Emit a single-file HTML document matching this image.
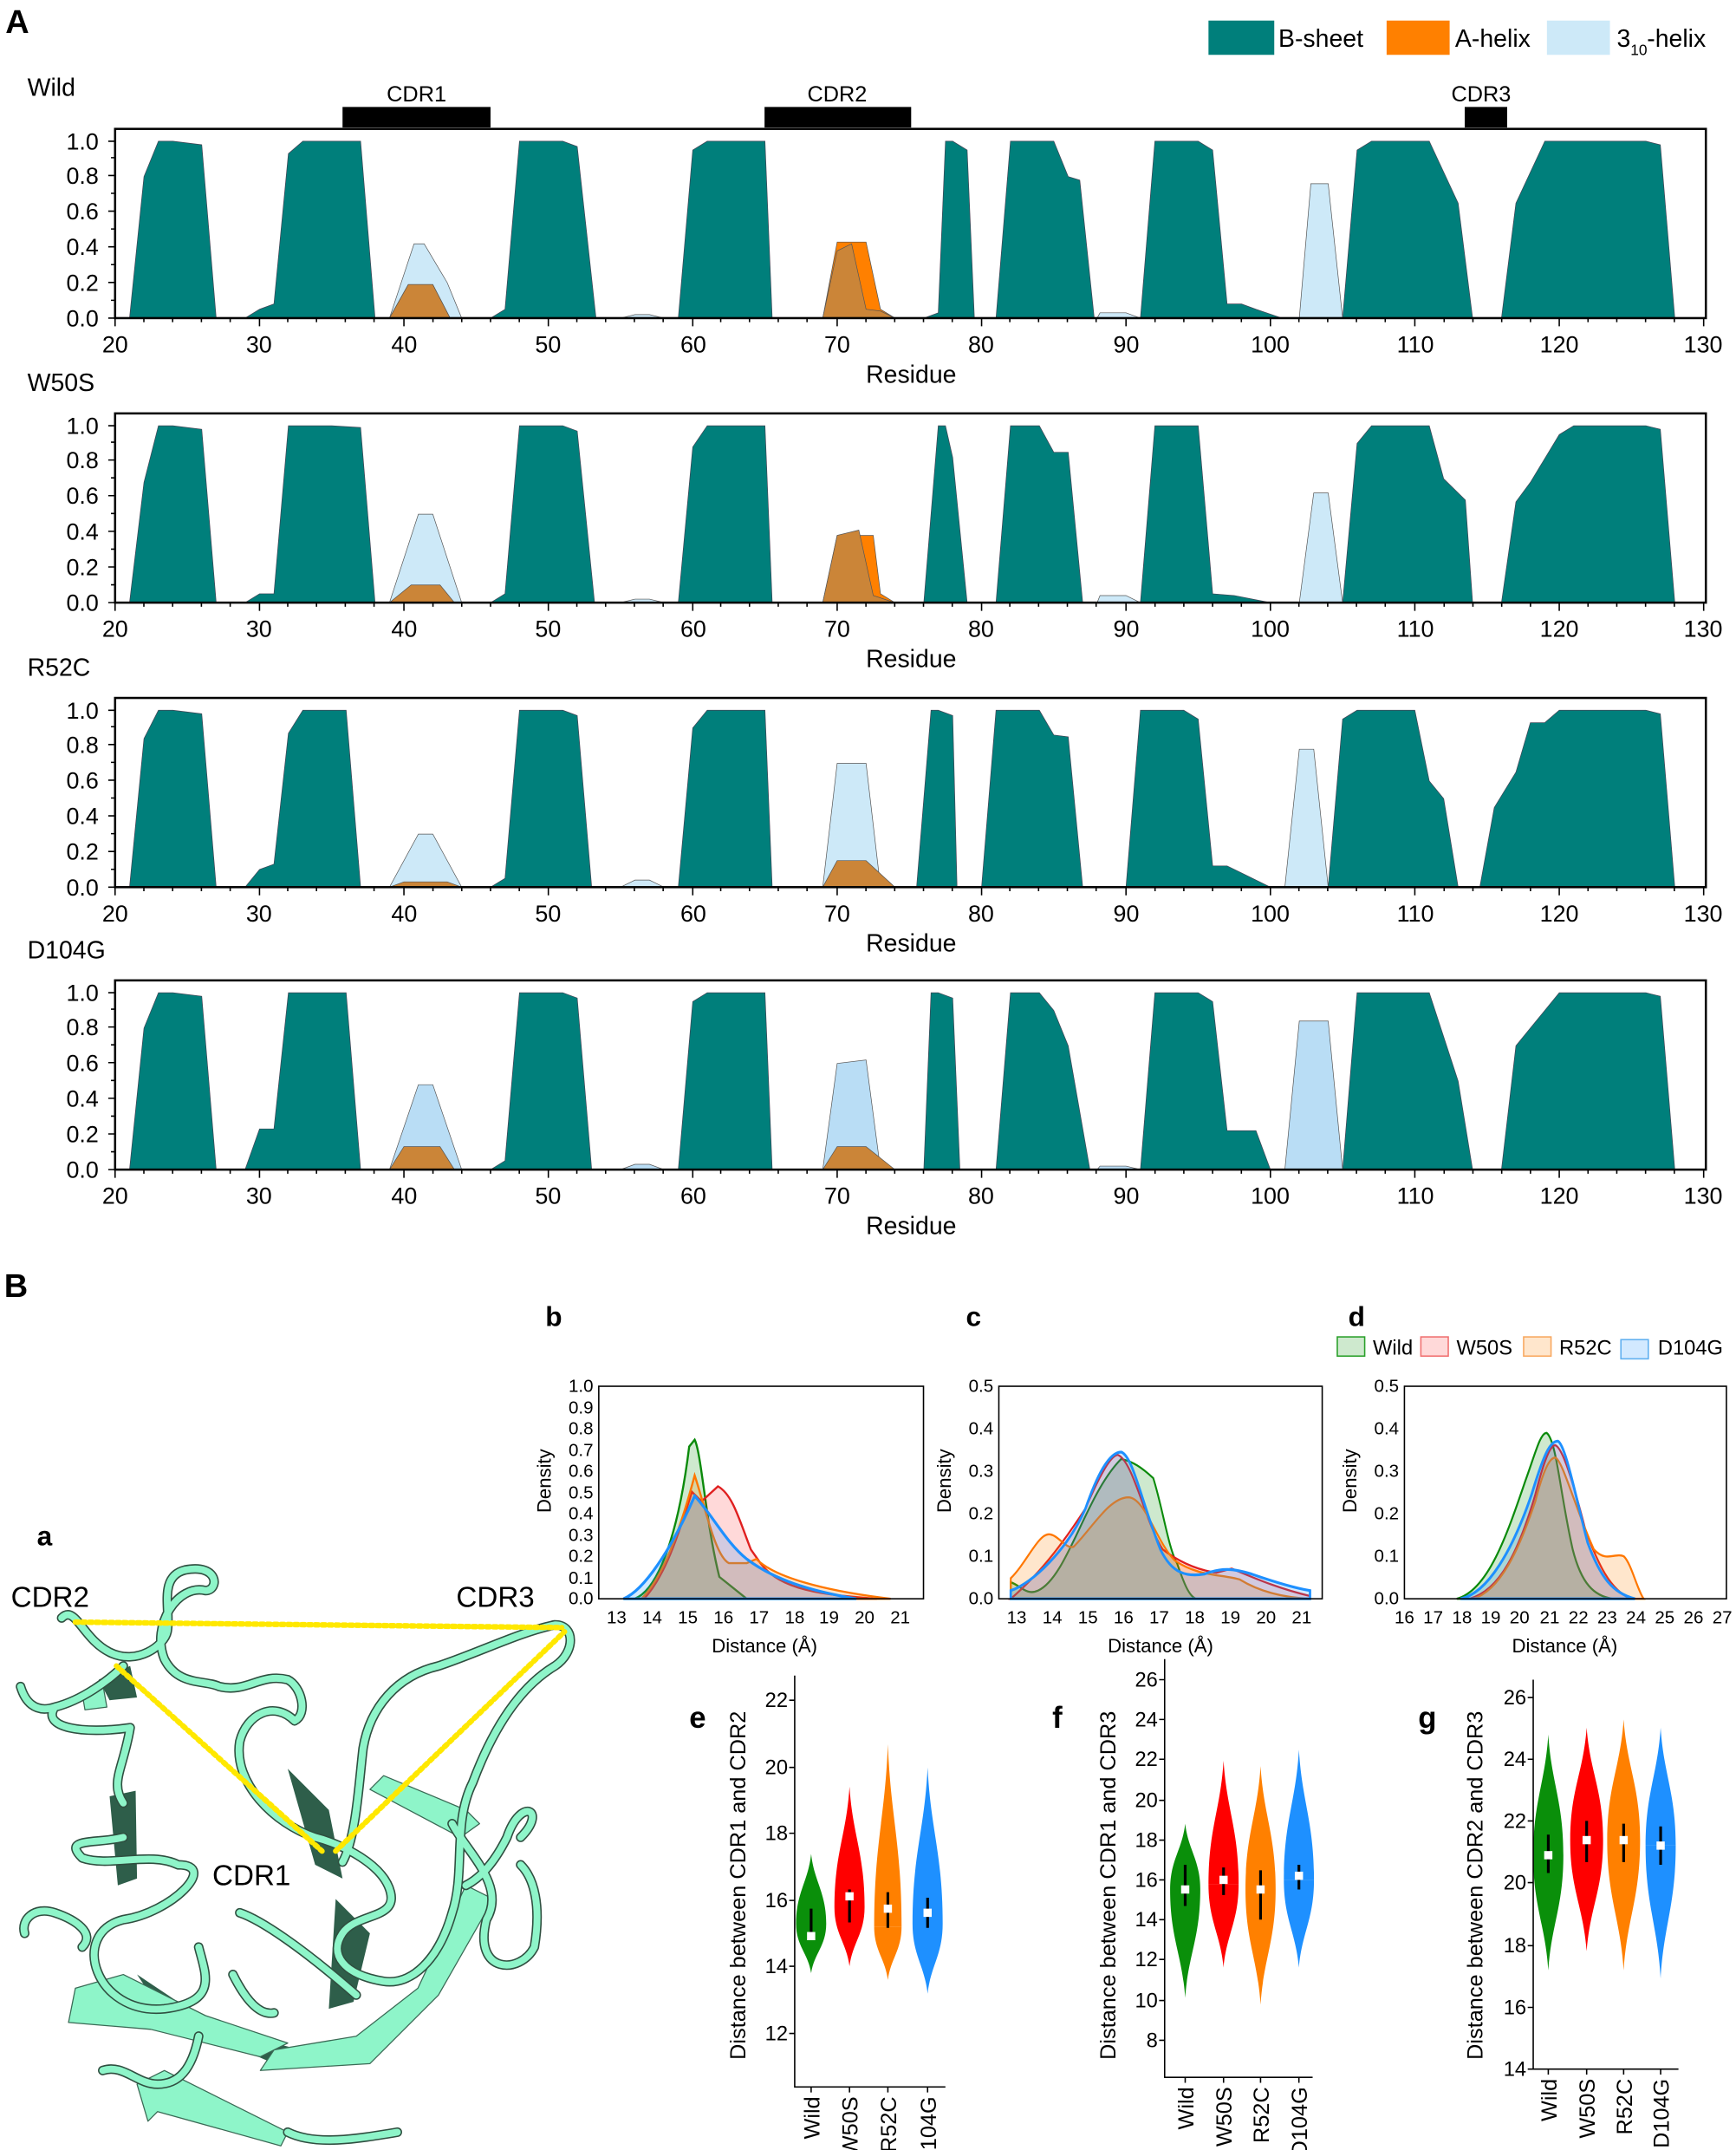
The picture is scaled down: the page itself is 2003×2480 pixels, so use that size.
<!DOCTYPE html>
<html><head><meta charset="utf-8"><style>
html,body{margin:0;padding:0;background:#fff}
svg{display:block}
text{font-family:"Liberation Sans",sans-serif;fill:#000}
</style></head><body>
<svg width="2003" height="2480" viewBox="0 0 1267 1568" preserveAspectRatio="none" xmlns="http://www.w3.org/2000/svg">
<defs>
<g id="xaxis">
<g stroke="#000" stroke-width="1" fill="none">
<path d="M84,232v6M189.4,232v6M294.8,232v6M400.2,232v6M505.6,232v6M611,232v6M716.4,232v6M821.8,232v6M927.2,232v6M1032.6,232v6M1138,232v6M1243.4,232v6"/>
<path d="M105,232v3M126,232v3M147,232v3M168,232v3M210,232v3M231,232v3M252,232v3M273,232v3M316,232v3M337,232v3M358,232v3M379,232v3M421,232v3M442,232v3M463,232v3M484,232v3M526,232v3M547,232v3M568,232v3M589,232v3M632,232v3M653,232v3M674,232v3M695,232v3M737,232v3M758,232v3M779,232v3M800,232v3M843,232v3M864,232v3M885,232v3M906,232v3M948,232v3M969,232v3M990,232v3M1011,232v3M1054,232v3M1075,232v3M1096,232v3M1117,232v3M1159,232v3M1180,232v3M1201,232v3M1222,232v3"/>
<path d="M84,232h-5M84,219h-3M84,206h-5M84,193h-3M84,180h-5M84,167h-3M84,154h-5M84,141h-3M84,128h-5M84,115h-3M84,103h-5"/>
</g>
<g font-size="17" text-anchor="middle">
<text x="84" y="257">20</text><text x="189" y="257">30</text><text x="295" y="257">40</text><text x="400" y="257">50</text><text x="506" y="257">60</text><text x="611" y="257">70</text><text x="716" y="257">80</text><text x="822" y="257">90</text><text x="927" y="257">100</text><text x="1033" y="257">110</text><text x="1138" y="257">120</text><text x="1243" y="257">130</text>
<text x="665" y="279" font-size="18">Residue</text>
</g>
<g font-size="17" text-anchor="end">
<text x="72" y="238">0.0</text><text x="72" y="212">0.2</text><text x="72" y="186">0.4</text><text x="72" y="160">0.6</text><text x="72" y="134">0.8</text><text x="72" y="109">1.0</text>
</g>
<rect x="84" y="94" width="1161" height="138" fill="none" stroke="#000" stroke-width="1.6"/>
</g>
</defs>

<text x="4" y="24" font-size="24" font-weight="bold">A</text>
<rect x="882" y="15" width="48" height="25" fill="#007f7b"/><text x="933" y="34" font-size="18">B-sheet</text>
<rect x="1012" y="15" width="46" height="25" fill="#ff8000"/><text x="1062" y="34" font-size="18">A-helix</text>
<rect x="1129" y="15" width="46" height="25" fill="#cde9f8"/><text x="1180" y="34" font-size="18">3</text><text x="1190" y="40" font-size="11">10</text><text x="1202" y="34" font-size="18">-helix</text>
<rect x="250" y="78" width="108" height="15" fill="#000"/><text x="304" y="74" font-size="16" text-anchor="middle">CDR1</text>
<rect x="558" y="78" width="107" height="15" fill="#000"/><text x="611" y="74" font-size="16" text-anchor="middle">CDR2</text>
<rect x="1069" y="78" width="31" height="15" fill="#000"/><text x="1081" y="74" font-size="16" text-anchor="middle">CDR3</text>

<text x="20" y="70" font-size="18">Wild</text>
<text x="20" y="285" font-size="18">W50S</text>
<text x="20" y="493" font-size="18">R52C</text>
<text x="20" y="699" font-size="18">D104G</text>

<!-- Wild -->
<g>
<g transform="translate(84,232) scale(10.54,-129)" stroke="#555" stroke-width="0.7">
<g fill="#007f7b" stroke="#445" >
<polygon vector-effect="non-scaling-stroke" points="1,0 2,0.8 3,1 4,1 6,0.98 7,0"/>
<polygon vector-effect="non-scaling-stroke" points="9,0 10,0.05 11,0.08 12,0.93 13,1 15,1 17,1 18,0"/>
<polygon vector-effect="non-scaling-stroke" points="26,0 27,0.05 28,1 31,1 32,0.97 33.3,0"/>
<polygon vector-effect="non-scaling-stroke" points="39,0 40,0.95 41,1 45,1 45.5,0"/>
<polygon vector-effect="non-scaling-stroke" points="56,0 57,0.03 57.5,1 58,1 59,0.95 59.5,0"/>
<polygon vector-effect="non-scaling-stroke" points="61,0 62,1 65,1 66,0.8 66.8,0.78 67.8,0"/>
<polygon vector-effect="non-scaling-stroke" points="71,0 72,1 75,1 76,0.95 77,0.08 78,0.08 79,0.05 80.8,0"/>
<polygon vector-effect="non-scaling-stroke" points="85,0 86,0.95 87,1 91,1 93,0.65 94,0"/>
<polygon vector-effect="non-scaling-stroke" points="96,0 97,0.65 99,1 106,1 107,0.98 108,0"/>
</g>
<g fill="#cde9f8">
<polygon vector-effect="non-scaling-stroke" points="19,0 20.7,0.42 21.4,0.42 23,0.2 24,0"/>
<polygon vector-effect="non-scaling-stroke" points="82,0 82.8,0.76 84,0.76 85,0"/>
<polygon vector-effect="non-scaling-stroke" points="68,0 68.2,0.03 70,0.03 71,0"/>
<polygon vector-effect="non-scaling-stroke" points="35,0 36,0.02 37,0.02 38,0"/>
<polygon vector-effect="non-scaling-stroke" points="53,0.05 54,0 53,0"/>
</g>
<polygon fill="#ff8000" vector-effect="non-scaling-stroke" points="19,0 20.3,0.19 22,0.19 23.2,0"/>
<polygon fill="#ff8000" vector-effect="non-scaling-stroke" points="49,0 50,0.43 52,0.43 53,0.05 54,0"/>
<polygon fill="#cb8538" vector-effect="non-scaling-stroke" points="19,0 20.3,0.19 22,0.19 23.2,0"/>
<polygon fill="#cb8538" vector-effect="non-scaling-stroke" points="49,0 50,0.38 51,0.42 52,0.05 53,0.04 54,0"/>
</g>
<use href="#xaxis"/>
</g>

<!-- W50S -->
<g transform="translate(0,207.5)">
<g transform="translate(84,232) scale(10.54,-129)" stroke="#555" stroke-width="0.7">
<g fill="#007f7b" stroke="#445">
<polygon vector-effect="non-scaling-stroke" points="1,0 2,0.68 3,1 4,1 6,0.98 7,0"/>
<polygon vector-effect="non-scaling-stroke" points="9,0 10,0.05 11,0.05 12,1 15,1 17,0.99 18,0"/>
<polygon vector-effect="non-scaling-stroke" points="26,0 27,0.05 28,1 31,1 32,0.97 33.2,0"/>
<polygon vector-effect="non-scaling-stroke" points="39,0 40,0.88 41,1 45,1 45.5,0"/>
<polygon vector-effect="non-scaling-stroke" points="56,0 57,1 57.5,1 58,0.82 59,0"/>
<polygon vector-effect="non-scaling-stroke" points="61,0 62,1 64,1 65,0.85 66,0.85 67,0"/>
<polygon vector-effect="non-scaling-stroke" points="71,0 72,1 75,1 76,0.05 77.5,0.04 80,0"/>
<polygon vector-effect="non-scaling-stroke" points="85,0 86,0.9 87,1 91,1 92,0.7 93.5,0.58 94,0"/>
<polygon vector-effect="non-scaling-stroke" points="96,0 97,0.57 98,0.68 100,0.95 101,1 106,1 107,0.98 108,0"/>
</g>
<g fill="#cde9f8">
<polygon vector-effect="non-scaling-stroke" points="19,0 21,0.5 22,0.5 24,0"/>
<polygon vector-effect="non-scaling-stroke" points="82,0 83,0.62 84,0.62 85,0"/>
<polygon vector-effect="non-scaling-stroke" points="68,0 68.2,0.04 70,0.04 71,0"/>
<polygon vector-effect="non-scaling-stroke" points="35,0 36,0.02 37,0.02 38,0"/>
</g>
<polygon fill="#cb8538" vector-effect="non-scaling-stroke" points="19,0 20.5,0.1 22.5,0.1 23.5,0"/>
<polygon fill="#ff8000" vector-effect="non-scaling-stroke" points="49,0 50,0.38 52.5,0.38 53,0.05 54,0"/>
<polygon fill="#cb8538" vector-effect="non-scaling-stroke" points="49,0 50,0.38 51.5,0.41 52.5,0.04 54,0"/>
</g>
<use href="#xaxis"/>
</g>

<!-- R52C -->
<g transform="translate(0,415)">
<g transform="translate(84,232) scale(10.54,-129)" stroke="#555" stroke-width="0.7">
<g fill="#007f7b" stroke="#445">
<polygon vector-effect="non-scaling-stroke" points="1,0 2,0.84 3,1 4,1 6,0.98 7,0"/>
<polygon vector-effect="non-scaling-stroke" points="9,0 10,0.1 11,0.13 12,0.87 13,1 16,1 17,0"/>
<polygon vector-effect="non-scaling-stroke" points="26,0 27,0.05 28,1 31,1 32,0.97 33,0"/>
<polygon vector-effect="non-scaling-stroke" points="39,0 40,0.9 41,1 45,1 45.5,0"/>
<polygon vector-effect="non-scaling-stroke" points="55.5,0 56.5,1 57,1 58,0.97 58.3,0"/>
<polygon vector-effect="non-scaling-stroke" points="60,0 61,1 64,1 65,0.86 66,0.85 67,0"/>
<polygon vector-effect="non-scaling-stroke" points="70,0 71,1 74,1 75,0.95 76,0.12 77,0.12 78,0.08 80,0"/>
<polygon vector-effect="non-scaling-stroke" points="84,0 85,0.95 86,1 90,1 91,0.6 92,0.5 93,0"/>
<polygon vector-effect="non-scaling-stroke" points="94.5,0 95.5,0.45 97,0.65 98,0.93 99,0.93 100,1 106,1 107,0.98 108,0"/>
</g>
<g fill="#cde9f8">
<polygon vector-effect="non-scaling-stroke" points="19,0 21,0.3 22,0.3 24,0"/>
<polygon vector-effect="non-scaling-stroke" points="49,0 50,0.7 52,0.7 53,0"/>
<polygon vector-effect="non-scaling-stroke" points="81,0 82,0.78 83,0.78 84,0"/>
<polygon vector-effect="non-scaling-stroke" points="35,0 36,0.04 37,0.04 38,0"/>
</g>
<polygon fill="#cb8538" vector-effect="non-scaling-stroke" points="19,0 20,0.03 23,0.03 24,0"/>
<polygon fill="#cb8538" vector-effect="non-scaling-stroke" points="49,0 50,0.15 52,0.15 54,0"/>
</g>
<use href="#xaxis"/>
</g>

<!-- D104G -->
<g transform="translate(0,621)">
<g transform="translate(84,232) scale(10.54,-129)" stroke="#555" stroke-width="0.7">
<g fill="#007f7b" stroke="#445">
<polygon vector-effect="non-scaling-stroke" points="1,0 2,0.8 3,1 4,1 6,0.98 7,0"/>
<polygon vector-effect="non-scaling-stroke" points="9,0 10,0.23 11,0.23 12,1 16,1 17,0"/>
<polygon vector-effect="non-scaling-stroke" points="26,0 27,0.05 28,1 31,1 32,0.97 33,0"/>
<polygon vector-effect="non-scaling-stroke" points="39,0 40,0.95 41,1 45,1 45.5,0"/>
<polygon vector-effect="non-scaling-stroke" points="56,0 56.5,1 57,1 58,0.97 58.5,0"/>
<polygon vector-effect="non-scaling-stroke" points="61,0 62,1 64,1 65,0.9 66,0.7 67.5,0"/>
<polygon vector-effect="non-scaling-stroke" points="71,0 72,1 75,1 76,0.95 77,0.22 79,0.22 80,0"/>
<polygon vector-effect="non-scaling-stroke" points="85,0 86,1 91,1 93,0.5 94,0"/>
<polygon vector-effect="non-scaling-stroke" points="96,0 97,0.7 98,0.8 100,1 106,1 107,0.98 108,0"/>
</g>
<g fill="#b9ddf5">
<polygon vector-effect="non-scaling-stroke" points="19,0 21,0.48 22,0.48 24,0"/>
<polygon vector-effect="non-scaling-stroke" points="49,0 50,0.6 52,0.62 53,0"/>
<polygon vector-effect="non-scaling-stroke" points="81,0 82,0.84 84,0.84 85,0"/>
<polygon vector-effect="non-scaling-stroke" points="35,0 36,0.03 37,0.03 38,0"/>
<polygon vector-effect="non-scaling-stroke" points="68,0 68.2,0.02 70,0.02 71,0"/>
</g>
<polygon fill="#cb8538" vector-effect="non-scaling-stroke" points="19,0 20,0.13 22.5,0.13 23.5,0"/>
<polygon fill="#cb8538" vector-effect="non-scaling-stroke" points="49,0 50,0.13 52,0.13 54,0"/>
</g>
<use href="#xaxis"/>
</g>

<!-- Panel B -->
<text x="3" y="946" font-size="24" font-weight="bold">B</text>
<text x="398" y="967" font-size="20" font-weight="bold">b</text>
<text x="705" y="967" font-size="20" font-weight="bold">c</text>
<text x="984" y="967" font-size="20" font-weight="bold">d</text>
<text x="27" y="1127" font-size="20" font-weight="bold">a</text>

<!-- legend -->
<g font-size="15">
<rect x="976" y="975" width="20" height="14" fill="#0a8f0a" fill-opacity="0.2" stroke="#2aa02a"/><text x="1002" y="988">Wild</text>
<rect x="1037" y="975" width="20" height="14" fill="#ff0000" fill-opacity="0.15" stroke="#f07070"/><text x="1063" y="988">W50S</text>
<rect x="1112" y="975" width="20" height="14" fill="#ff8000" fill-opacity="0.2" stroke="#f8a860"/><text x="1138" y="988">R52C</text>
<rect x="1183" y="977" width="20" height="14" fill="#1e90ff" fill-opacity="0.2" stroke="#60b0f0"/><text x="1210" y="988">D104G</text>
</g>

<!-- plot b -->
<g>
<path d="M463,1166 C480,1160 495,1120 503,1055 L507,1050 C512,1060 515,1110 525,1150 L545,1166Z" fill="#0a8f0a" fill-opacity="0.2" stroke="#0a8a0a" stroke-width="1.5"/>
<path d="M470,1166 C485,1150 495,1120 505,1088 L512,1095 L524,1084 C535,1090 540,1110 548,1130 L555,1140 C570,1160 600,1163 640,1166Z" fill="#ff0000" fill-opacity="0.15" stroke="#e02020" stroke-width="1.5"/>
<path d="M468,1166 C485,1150 498,1110 507,1076 C515,1100 522,1135 532,1140 L545,1140 L552,1137 C565,1150 600,1160 650,1166Z" fill="#ff8000" fill-opacity="0.2" stroke="#ff7700" stroke-width="1.5"/>
<path d="M455,1166 C470,1160 490,1130 507,1091 C520,1105 530,1125 545,1137 C565,1152 590,1160 625,1166Z" fill="#1e90ff" fill-opacity="0.2" stroke="#1e90ff" stroke-width="2"/>
<rect x="437" y="1011" width="237" height="155" fill="none" stroke="#000" stroke-width="1"/>
<g font-size="13" text-anchor="end">
<text x="433" y="1170">0.0</text><text x="433" y="1155">0.1</text><text x="433" y="1139">0.2</text><text x="433" y="1124">0.3</text><text x="433" y="1108">0.4</text><text x="433" y="1093">0.5</text><text x="433" y="1077">0.6</text><text x="433" y="1062">0.7</text><text x="433" y="1046">0.8</text><text x="433" y="1031">0.9</text><text x="433" y="1015">1.0</text>
</g>
<g font-size="13" text-anchor="middle">
<text x="450" y="1184">13</text><text x="476" y="1184">14</text><text x="502" y="1184">15</text><text x="528" y="1184">16</text><text x="554" y="1184">17</text><text x="580" y="1184">18</text><text x="605" y="1184">19</text><text x="631" y="1184">20</text><text x="657" y="1184">21</text>
<text x="558" y="1205" font-size="14">Distance (Å)</text>
</g>
<text transform="translate(402,1080) rotate(-90)" font-size="14" text-anchor="middle">Density</text>
</g>

<!-- plot c -->
<g>
<g transform="matrix(0.8667,0,0,1,120.6,0)">
<path d="M712,1166 L712,1154 C720,1156 725,1164 735,1160 C760,1150 775,1090 805,1064 C815,1066 822,1070 832,1078 C840,1100 845,1130 852,1140 C858,1155 862,1164 868,1166Z" fill="#0a8f0a" fill-opacity="0.2" stroke="#0a8a0a" stroke-width="1.5"/>
<path d="M712,1166 C740,1145 760,1120 775,1100 C785,1080 795,1062 802,1061 C815,1065 825,1110 840,1130 C855,1140 870,1145 885,1147 L898,1144 C915,1150 935,1158 964,1164 L964,1166Z" fill="#ff0000" fill-opacity="0.15" stroke="#e02020" stroke-width="1.5"/>
<path d="M712,1151 C725,1140 735,1119 744,1119 C752,1119 758,1130 765,1128 C780,1115 795,1092 811,1092 C825,1092 835,1125 850,1138 C870,1150 890,1148 905,1152 C920,1160 940,1165 964,1166 L712,1166Z" fill="#ff8000" fill-opacity="0.2" stroke="#ff7700" stroke-width="1.5"/>
<path d="M712,1160 C730,1155 760,1130 775,1100 C785,1075 795,1059 805,1059 C815,1062 822,1095 838,1130 C848,1148 860,1150 875,1148 C890,1143 900,1144 915,1148 C935,1154 950,1158 964,1160 L964,1166 L712,1166Z" fill="#1e90ff" fill-opacity="0.2" stroke="#1e90ff" stroke-width="2"/>
</g>
<rect x="729" y="1011" width="236" height="155" fill="none" stroke="#000" stroke-width="1"/>
<g font-size="13" text-anchor="end">
<text x="725" y="1170">0.0</text><text x="725" y="1139">0.1</text><text x="725" y="1108">0.2</text><text x="725" y="1077">0.3</text><text x="725" y="1046">0.4</text><text x="725" y="1015">0.5</text>
</g>
<g font-size="13" text-anchor="middle">
<text x="742" y="1184">13</text><text x="768" y="1184">14</text><text x="794" y="1184">15</text><text x="820" y="1184">16</text><text x="846" y="1184">17</text><text x="872" y="1184">18</text><text x="898" y="1184">19</text><text x="924" y="1184">20</text><text x="950" y="1184">21</text>
<text x="847" y="1205" font-size="14">Distance (Å)</text>
</g>
<text transform="translate(694,1080) rotate(-90)" font-size="14" text-anchor="middle">Density</text>
</g>

<!-- plot d -->
<g>
<g transform="matrix(0.9095,0,0,1,112.8,0)">
<path d="M1045,1166 C1070,1160 1085,1120 1100,1080 C1108,1060 1112,1045 1117,1045 C1125,1050 1128,1090 1138,1130 C1145,1155 1155,1164 1170,1166Z" fill="#0a8f0a" fill-opacity="0.2" stroke="#0a8a0a" stroke-width="1.5"/>
<path d="M1055,1166 C1080,1160 1095,1130 1108,1090 C1115,1065 1120,1054 1124,1054 C1130,1056 1138,1080 1148,1115 C1158,1140 1168,1160 1185,1166Z" fill="#ff0000" fill-opacity="0.15" stroke="#e02020" stroke-width="1.5"/>
<path d="M1058,1166 C1080,1160 1095,1130 1108,1095 C1115,1070 1120,1063 1124,1063 C1130,1065 1140,1100 1155,1130 C1165,1140 1172,1132 1179,1135 C1185,1140 1190,1160 1195,1166Z" fill="#ff8000" fill-opacity="0.2" stroke="#ff7700" stroke-width="1.5"/>
<path d="M1048,1166 C1070,1162 1090,1130 1105,1090 C1115,1060 1120,1051 1126,1051 C1132,1053 1140,1090 1150,1125 C1160,1150 1170,1162 1188,1166Z" fill="#1e90ff" fill-opacity="0.2" stroke="#1e90ff" stroke-width="2"/>
</g>
<rect x="1025" y="1011" width="235" height="155" fill="none" stroke="#000" stroke-width="1"/>
<g font-size="13" text-anchor="end">
<text x="1021" y="1170">0.0</text><text x="1021" y="1139">0.1</text><text x="1021" y="1108">0.2</text><text x="1021" y="1077">0.3</text><text x="1021" y="1046">0.4</text><text x="1021" y="1015">0.5</text>
</g>
<g font-size="13" text-anchor="middle">
<text x="1025" y="1184">16</text><text x="1046" y="1184">17</text><text x="1067" y="1184">18</text><text x="1088" y="1184">19</text><text x="1109" y="1184">20</text><text x="1131" y="1184">21</text><text x="1152" y="1184">22</text><text x="1173" y="1184">23</text><text x="1194" y="1184">24</text><text x="1215" y="1184">25</text><text x="1236" y="1184">26</text><text x="1257" y="1184">27</text>
<text x="1142" y="1205" font-size="14">Distance (Å)</text>
</g>
<text transform="translate(990,1080) rotate(-90)" font-size="14" text-anchor="middle">Density</text>
</g>

<!-- violins -->
<defs>
<path id="vu" d="M-1,0 C-1,-0.45 -0.2,-0.6 0,-1 C0.2,-0.6 1,-0.45 1,0Z"/>
<path id="vl" d="M-1,0 C-1,0.45 -0.2,0.6 0,1 C0.2,0.6 1,0.45 1,0Z"/>
</defs>
<g stroke="none">
<g fill="#0a8f0a"><use href="#vu" transform="translate(592,1403) scale(11,51)"/><use href="#vl" transform="translate(592,1403) scale(11,36)"/></g>
<g fill="#ff0000"><use href="#vu" transform="translate(620,1391) scale(11,88)"/><use href="#vl" transform="translate(620,1391) scale(11,43)"/></g>
<g fill="#ff8000"><use href="#vu" transform="translate(648,1405) scale(10,133)"/><use href="#vl" transform="translate(648,1405) scale(10,39)"/></g>
<g fill="#1e90ff"><use href="#vu" transform="translate(677,1403) scale(11,114)"/><use href="#vl" transform="translate(677,1403) scale(11,51)"/></g>
<g fill="#0a8f0a"><use href="#vu" transform="translate(865,1378) scale(11,48)"/><use href="#vl" transform="translate(865,1378) scale(11,79)"/></g>
<g fill="#ff0000"><use href="#vu" transform="translate(893,1374) scale(11,90)"/><use href="#vl" transform="translate(893,1374) scale(11,61)"/></g>
<g fill="#ff8000"><use href="#vu" transform="translate(920,1378) scale(11,90)"/><use href="#vl" transform="translate(920,1378) scale(11,84)"/></g>
<g fill="#1e90ff"><use href="#vu" transform="translate(948,1371) scale(11,95)"/><use href="#vl" transform="translate(948,1371) scale(11,64)"/></g>
<g fill="#0a8f0a"><use href="#vu" transform="translate(1130,1353) scale(11,88)"/><use href="#vl" transform="translate(1130,1353) scale(11,84)"/></g>
<g fill="#ff0000"><use href="#vu" transform="translate(1158,1342) scale(12,82)"/><use href="#vl" transform="translate(1158,1342) scale(12,81)"/></g>
<g fill="#ff8000"><use href="#vu" transform="translate(1185,1342) scale(12,88)"/><use href="#vl" transform="translate(1185,1342) scale(12,95)"/></g>
<g fill="#1e90ff"><use href="#vu" transform="translate(1212,1346) scale(11,86)"/><use href="#vl" transform="translate(1212,1346) scale(11,97)"/></g>
</g>
<g stroke="#000" stroke-width="2" fill="none">
<path d="M592,1392v22M620,1378v24M648,1380v26M677,1384v22M865,1360v30M893,1362v20M920,1364v36M948,1360v18M1130,1338v28M1158,1328v30M1185,1330v28M1212,1332v28"/>
</g>
<g fill="#fff">
<rect x="589" y="1409" width="6" height="6"/><rect x="617" y="1380" width="6" height="6"/><rect x="645" y="1389" width="6" height="6"/><rect x="674" y="1392" width="6" height="6"/>
<rect x="862" y="1375" width="6" height="6"/><rect x="890" y="1368" width="6" height="6"/><rect x="917" y="1375" width="6" height="6"/><rect x="945" y="1365" width="6" height="6"/>
<rect x="1127" y="1350" width="6" height="6"/><rect x="1155" y="1339" width="6" height="6"/><rect x="1182" y="1339" width="6" height="6"/><rect x="1209" y="1343" width="6" height="6"/>
</g>
<!-- violin axes -->
<g stroke="#000" stroke-width="1" fill="none">
<path d="M580,1222V1522H690"/><path d="M850,1210V1515H958"/><path d="M1119,1225V1509H1225"/>
<path d="M580,1240h-4M580,1289h-4M580,1337h-4M580,1386h-4M580,1434h-4M580,1483h-4"/>
<path d="M850,1225h-4M850,1254h-4M850,1283h-4M850,1313h-4M850,1342h-4M850,1371h-4M850,1400h-4M850,1429h-4M850,1459h-4M850,1488h-4"/>
<path d="M1119,1238h-4M1119,1283h-4M1119,1328h-4M1119,1373h-4M1119,1419h-4M1119,1464h-4M1119,1509h-4"/>
<path d="M592,1522v4M620,1522v4M648,1522v4M677,1522v4M865,1515v4M893,1515v4M920,1515v4M948,1515v4M1130,1509v4M1158,1509v4M1185,1509v4M1212,1509v4"/>
</g>
<g font-size="15" text-anchor="end">
<text x="575" y="1245">22</text><text x="575" y="1294">20</text><text x="575" y="1342">18</text><text x="575" y="1391">16</text><text x="575" y="1439">14</text><text x="575" y="1488">12</text>
<text x="845" y="1230">26</text><text x="845" y="1259">24</text><text x="845" y="1288">22</text><text x="845" y="1318">20</text><text x="845" y="1347">18</text><text x="845" y="1376">16</text><text x="845" y="1405">14</text><text x="845" y="1434">12</text><text x="845" y="1464">10</text><text x="845" y="1493">8</text>
<text x="1114" y="1243">26</text><text x="1114" y="1288">24</text><text x="1114" y="1333">22</text><text x="1114" y="1378">20</text><text x="1114" y="1424">18</text><text x="1114" y="1469">16</text><text x="1114" y="1514">14</text>
</g>
<g font-size="16" text-anchor="end">
<text transform="translate(598,1529) rotate(-90)">Wild</text><text transform="translate(626,1529) rotate(-90)">W50S</text><text transform="translate(654,1529) rotate(-90)">R52C</text><text transform="translate(683,1529) rotate(-90)">D104G</text>
<text transform="translate(871,1522) rotate(-90)">Wild</text><text transform="translate(899,1522) rotate(-90)">W50S</text><text transform="translate(926,1522) rotate(-90)">R52C</text><text transform="translate(954,1522) rotate(-90)">D104G</text>
<text transform="translate(1136,1516) rotate(-90)">Wild</text><text transform="translate(1164,1516) rotate(-90)">W50S</text><text transform="translate(1191,1516) rotate(-90)">R52C</text><text transform="translate(1218,1516) rotate(-90)">D104G</text>
</g>
<g font-size="16" text-anchor="middle">
<text transform="translate(544,1375) rotate(-90)">Distance between CDR1 and CDR2</text>
<text transform="translate(814,1375) rotate(-90)">Distance between CDR1 and CDR3</text>
<text transform="translate(1082,1375) rotate(-90)">Distance between CDR2 and CDR3</text>
</g>
<text x="503" y="1260" font-size="22" font-weight="bold">e</text>
<text x="768" y="1260" font-size="22" font-weight="bold">f</text>
<text x="1035" y="1260" font-size="22" font-weight="bold">g</text>

<!-- protein structure (approximate) -->
<g fill="none" stroke-linecap="round" stroke-linejoin="round">
<g fill="#2e5e4a">
<polygon points="72,1225 95,1215 100,1238 80,1240"/>
<polygon points="80,1310 99,1306 100,1370 86,1375"/>
<polygon points="210,1290 240,1320 250,1370 230,1360"/>
<polygon points="245,1385 270,1410 258,1460 240,1465"/>
<polygon points="100,1440 160,1480 240,1500 200,1505 120,1470"/>
</g>
<g fill="#8ef5c9" stroke="#3a6a55" stroke-width="0.8">
<polygon points="60,1235 75,1228 78,1245 62,1247"/>
<polygon points="280,1295 340,1320 350,1330 336,1340 270,1305"/>
<polygon points="340,1375 360,1385 320,1455 270,1505 190,1510 200,1495 260,1485 305,1450"/>
<polygon points="55,1450 90,1440 150,1470 210,1490 190,1500 110,1480 50,1475"/>
<polygon points="100,1520 120,1510 210,1555 205,1565 115,1540 108,1547"/>
</g>
<g stroke="#2f4f40" stroke-width="7">
<path id="bb" d="M45,1180 C55,1170 60,1195 80,1205 C100,1215 120,1200 122,1190 C125,1175 115,1150 135,1145 C160,1140 160,1160 150,1160 C130,1155 110,1185 120,1210 C130,1230 150,1225 160,1230 C180,1235 190,1220 210,1225 C220,1230 225,1250 215,1255 C200,1240 180,1250 175,1270 C170,1300 200,1330 230,1340 C250,1345 280,1360 285,1380 C290,1400 260,1395 250,1410 C240,1425 250,1440 280,1445 C300,1448 320,1430 330,1395 C340,1365 330,1330 345,1300 C360,1260 380,1230 405,1215 C420,1205 420,1185 405,1185 C380,1190 350,1205 320,1215 C290,1222 270,1245 265,1275 C262,1300 260,1340 250,1358"/>
<path d="M90,1215 C80,1225 60,1240 40,1245 C25,1250 18,1240 15,1230 M40,1245 C30,1260 60,1265 95,1260 M95,1260 C90,1290 80,1300 90,1315 M90,1340 C70,1345 45,1340 60,1355 C80,1362 110,1350 130,1360 M130,1360 C160,1360 125,1395 90,1400 C50,1410 70,1470 120,1465 C160,1460 150,1440 145,1420 M40,1395 C25,1390 15,1400 18,1410 M40,1395 C55,1400 70,1410 60,1420 M175,1395 C190,1400 220,1420 260,1455 M170,1440 C180,1460 190,1470 200,1468 M145,1485 C140,1510 130,1520 115,1520 C100,1520 90,1505 75,1510 M210,1555 C230,1565 260,1560 290,1555 M340,1375 C350,1370 360,1360 370,1340 C380,1310 400,1320 380,1340 M330,1330 C340,1350 370,1375 355,1400 C345,1440 380,1440 390,1420 C395,1390 390,1370 380,1360"/>
</g>
<g stroke="#8ef5c9" stroke-width="5">
<use href="#bb"/>
<path d="M90,1215 C80,1225 60,1240 40,1245 C25,1250 18,1240 15,1230 M40,1245 C30,1260 60,1265 95,1260 M95,1260 C90,1290 80,1300 90,1315 M90,1340 C70,1345 45,1340 60,1355 C80,1362 110,1350 130,1360 M130,1360 C160,1360 125,1395 90,1400 C50,1410 70,1470 120,1465 C160,1460 150,1440 145,1420 M40,1395 C25,1390 15,1400 18,1410 M40,1395 C55,1400 70,1410 60,1420 M175,1395 C190,1400 220,1420 260,1455 M170,1440 C180,1460 190,1470 200,1468 M145,1485 C140,1510 130,1520 115,1520 C100,1520 90,1505 75,1510 M210,1555 C230,1565 260,1560 290,1555 M340,1375 C350,1370 360,1360 370,1340 C380,1310 400,1320 380,1340 M330,1330 C340,1350 370,1375 355,1400 C345,1440 380,1440 390,1420 C395,1390 390,1370 380,1360"/>
</g>
<g stroke="#ffe800" stroke-width="4" stroke-dasharray="2.5 2.5">
<path d="M55,1183 L410,1187"/>
<path d="M85,1215 L235,1350"/>
<path d="M245,1350 L412,1190"/>
</g>
</g>
<g font-size="21">
<text x="8" y="1172">CDR2</text>
<text x="333" y="1172">CDR3</text>
<text x="155" y="1375">CDR1</text>
</g>
</svg>
</body></html>
